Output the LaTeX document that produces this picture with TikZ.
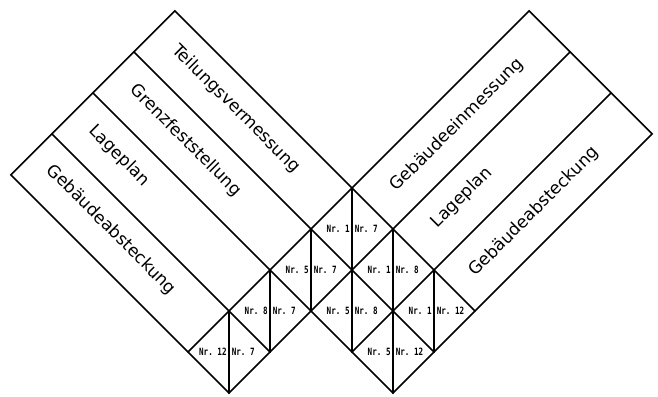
\documentclass[tikz,border=0pt]{standalone}
\usepackage{fontspec}
\usepackage{graphicx}
\newfontfamily\bandfont{DejaVu Sans}
\newfontfamily\nrfont{DejaVu Sans Mono}
\newcommand{\nrtxt}[1]{\scalebox{0.76}[1]{Nr.\ #1}}
\tikzset{
  ln/.style={line width=1.7pt, line cap=round, line join=miter},
  vln/.style={line width=2.1pt, line cap=round},
  nr/.style={font=\nrfont\bfseries\fontsize{10}{10}\selectfont, inner sep=0pt},
  band/.style={font=\bandfont\fontsize{17}{17}\selectfont, inner sep=0pt},
}
\begin{document}
\begin{tikzpicture}[x=1pt,y=1pt]
\useasboundingbox (0,0) rectangle (658,396);
\begin{scope}[shift={(352pt,208pt)}, x={(41pt,-41pt)}, y={(-41pt,-41pt)}]
  % outer outline
  \draw[ln] (-4.32,0) -- (0,0) -- (0,-4.32) -- (3,-4.32) -- (3,2) -- (2,2)
            -- (1,2) -- (1,4) -- (0,4) -- (-4.32,4) -- cycle;
  % constant-b lines
  \draw[ln] (-4.32,1) -- (3,1);
  \draw[ln] (-4.32,2) -- (1,2);
  \draw[ln] (-4.32,3) -- (1,3);
  \draw[ln] (0,0) -- (3,0);
  % constant-a lines
  \draw[ln] (0,0) -- (0,4);
  \draw[ln] (1,-4.32) -- (1,2);
  \draw[ln] (2,-4.32) -- (2,2);
  % vertical splits
  \draw[vln] (0,0) -- (2,2);
  \draw[vln] (1,0) -- (3,2);
  \draw[vln] (0,1) -- (1,2);
  \draw[vln] (0,2) -- (1,3);
  \draw[vln] (0,3) -- (1,4);
  \draw[vln] (2,0) -- (3,1);
  % labels
  \foreach \A/\B/\L/\R/\n in {0/0/1/7/a, 0/1/5/7/b, 1/0/1/8/c, 0/2/8/7/d,
                              1/1/5/8/e, 2/0/1/12/f, 0/3/12/7/g, 2/1/5/12/h}{
    \node[nr, anchor=east, xshift=-2.2pt] (l\n) at (\A+0.5,\B+0.5) {\nrtxt{\L}};
    \node[nr, anchor=west, xshift=2.6pt] (r\n) at (\A+0.5,\B+0.5) {\nrtxt{\R}};
  }
  % band texts, left block
  \node[band, rotate=-45] (t1) at (-2.38,0.45) {Teilungsvermessung};
  \node[band, rotate=-45] (t2) at (-2.61,1.45) {Grenzfeststellung};
  \node[band, rotate=-45] (t3) at (-3.23,2.45) {Lageplan};
  \node[band, rotate=-45] (t4) at (-2.43,3.45) {Gebäudeabsteckung};
  % band texts, right block
  \node[band, rotate=45] (t5) at (0.51,-2.05) {Gebäudeeinmessung};
  \node[band, rotate=45] (t6) at (1.46,-1.22) {Lageplan};
  \node[band, rotate=45] (t7) at (2.51,-1.93) {Gebäudeabsteckung};
\end{scope}
\end{tikzpicture}
\end{document}
